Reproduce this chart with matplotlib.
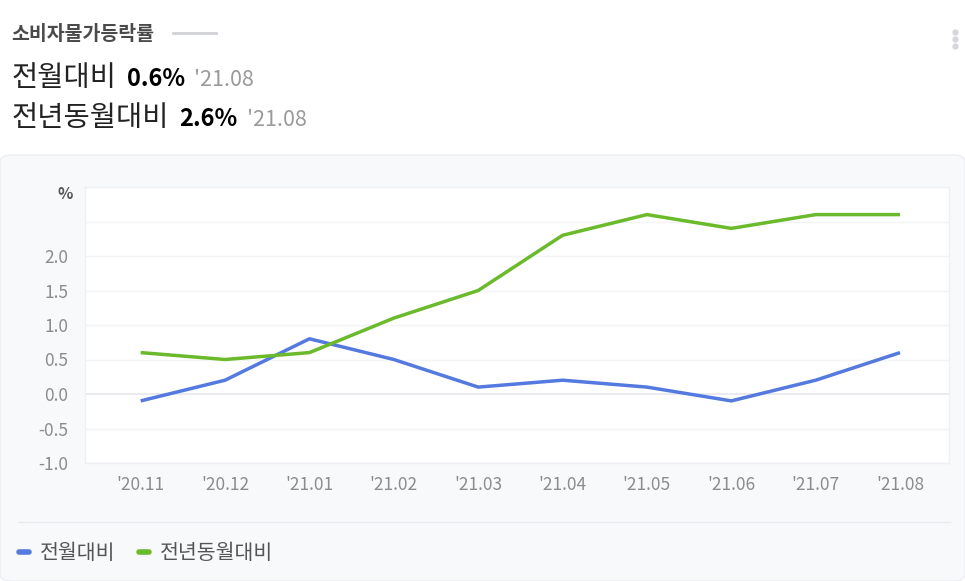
import matplotlib
matplotlib.use("Agg")
import matplotlib.pyplot as plt
from matplotlib.patches import FancyBboxPatch
from matplotlib.lines import Line2D

plt.rcParams['font.family'] = ['Noto Sans CJK KR', 'DejaVu Sans']

months = ["'20.11", "'20.12", "'21.01", "'21.02", "'21.03", "'21.04", "'21.05", "'21.06", "'21.07", "'21.08"]
mom = [-0.1, 0.2, 0.8, 0.5, 0.1, 0.2, 0.1, -0.1, 0.2, 0.6]
yoy = [0.6, 0.5, 0.6, 1.1, 1.5, 2.3, 2.6, 2.4, 2.6, 2.6]
yticks = [-1.0, -0.5, 0.0, 0.5, 1.0, 1.5, 2.0]
grid_extra = [2.5, 3.0]
series_names = ["전월대비", "전년동월대비"]
blue = "#5479df"
green = "#6aba2c"

W, H = 965, 581
fig = plt.figure(figsize=(W / 100, H / 100), dpi=100)
fig.patch.set_facecolor("white")

def fx(px):
    return px / W

def fy(py):
    return 1 - py / H

# lower panel background
panel = FancyBboxPatch((fx(0), 0), 1.0, fy(155), boxstyle="round,pad=0,rounding_size=0.012",
                       transform=fig.transFigure, facecolor="#f8f9fb", edgecolor="#eceef1",
                       linewidth=1, zorder=-10)
fig.patches.append(panel)

# header
fig.text(fx(11), fy(35), "소비자물가등락률", fontsize=14, fontweight="bold", color="#4a4a4a", va="center")
fig.add_artist(Line2D([fx(173), fx(216)], [fy(33), fy(33)], transform=fig.transFigure, color="#d0d2d6", lw=2))
for yy in (32, 39, 46):
    fig.add_artist(Line2D([fx(955)], [fy(yy)], transform=fig.transFigure, marker="o", ms=3.5,
                          color="#d5d7db", lw=0))

def header_line(ypx, label, val):
    t1 = fig.text(fx(11), fy(ypx), label, fontsize=20.5, color="#222222", va="baseline")
    fig.canvas.draw()
    r = fig.canvas.get_renderer()
    bb = t1.get_window_extent(r)
    t2 = fig.text(bb.x1 / W + fx(11), fy(ypx), val, fontsize=17, fontweight="bold", color="#000000", va="baseline")
    bb2 = t2.get_window_extent(r)
    fig.text(bb2.x1 / W + fx(9), fy(ypx), "'21.08", fontsize=15.5, color="#9a9a9a", va="baseline")

header_line(86, series_names[0], "0.6%")
header_line(126, series_names[1], "2.6%")

# axes
ax = fig.add_axes([fx(85), fy(463), fx(949) - fx(85), fy(187) - fy(463)])
ax.set_facecolor("white")
x = list(range(len(months)))
for g in yticks + grid_extra:
    ax.axhline(g, color="#e5e8ec" if g == 0 else "#f3f4f6", lw=1.2 if g == 0 else 1, zorder=1)
ax.plot(x, mom, color=blue, lw=2.5, zorder=3, solid_capstyle="butt")
ax.plot(x, yoy, color=green, lw=2.5, zorder=3, solid_capstyle="butt")
ax.set_xlim(-0.66, 9.58)
ax.set_ylim(-1.0, 3.0)
ax.set_yticks(yticks)
ax.set_yticklabels([f"{v:.1f}" for v in yticks])
ax.set_xticks(x)
ax.set_xticklabels(months)
ax.tick_params(axis="both", length=0, labelsize=12.5, labelcolor="#8c8c8c")
ax.tick_params(axis="y", pad=12)
ax.tick_params(axis="x", pad=9)
for s in ax.spines.values():
    s.set_color("#eef0f3")
    s.set_linewidth(1)
fig.text(fx(73), fy(194), "%", fontsize=11.5, fontweight="bold", color="#555555", ha="right", va="center")

# separator and legend
fig.add_artist(Line2D([fx(18), fx(950)], [fy(522), fy(522)], transform=fig.transFigure, color="#e8eaed", lw=1))
fig.add_artist(Line2D([fx(19), fx(29)], [fy(552), fy(552)], transform=fig.transFigure, color=blue, lw=4,
                      solid_capstyle="round"))
fig.text(fx(40), fy(553), series_names[0], fontsize=14.8, color="#555555", va="center")
fig.add_artist(Line2D([fx(139), fx(149)], [fy(552), fy(552)], transform=fig.transFigure, color=green, lw=4,
                      solid_capstyle="round"))
fig.text(fx(160), fy(553), series_names[1], fontsize=14.8, color="#555555", va="center")

fig.savefig("out.png", dpi=100, facecolor="white")
